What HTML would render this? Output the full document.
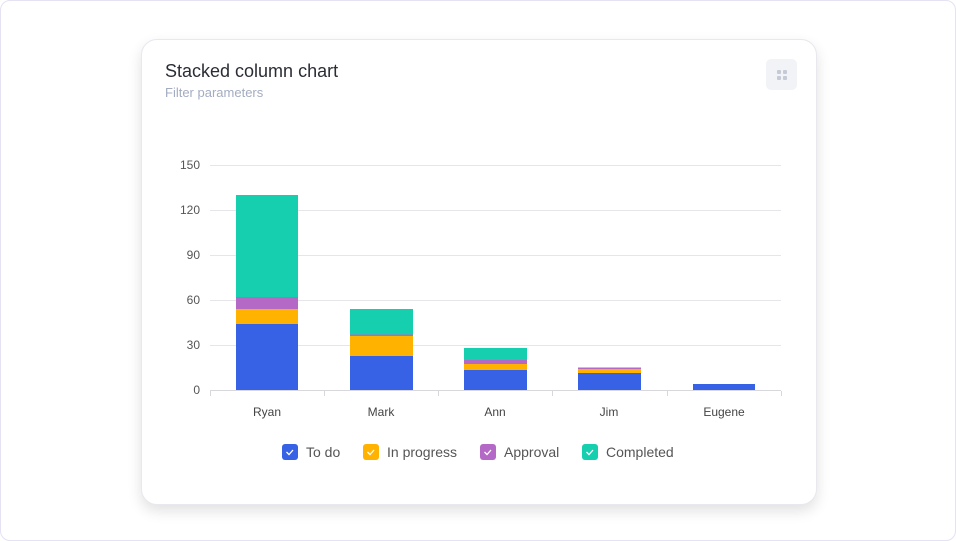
<!DOCTYPE html>
<html><head><style>
body{margin:0;width:956px;height:541px;background:#fff;font-family:"Liberation Sans",sans-serif;overflow:hidden}
.outer{position:absolute;left:0;top:0;width:954px;height:539px;border:1px solid #e4e2f3;border-radius:10px}
.card{position:absolute;left:141px;top:39px;width:674px;height:464px;background:#fff;border:1px solid #e8e8ee;border-radius:16px;box-shadow:0 6px 14px rgba(0,0,0,0.12)}
.t{position:absolute;left:23px;top:21px;font-size:18px;color:#2a2d34}
.s{position:absolute;left:23px;top:45px;font-size:13px;color:#a3acc1}
.btn{position:absolute;left:624px;top:19px;width:31px;height:31px;background:#f1f3f7;border-radius:5px}
</style></head><body>
<div class="outer"></div>
<div class="card"><div class="t">Stacked column chart</div><div class="s">Filter parameters</div>
<div class="btn"><svg width="31" height="31"><g fill="#c5cad6"><rect x="11" y="11" width="4" height="4" rx="1"/><rect x="17" y="11" width="4" height="4" rx="1"/><rect x="11" y="17" width="4" height="4" rx="1"/><rect x="17" y="17" width="4" height="4" rx="1"/></g></svg></div></div>
<svg style="position:absolute;left:0;top:0" width="956" height="541" font-family="Liberation Sans, sans-serif">
<g stroke="#e6e6ea" stroke-width="1">
<line x1="210" x2="781" y1="165.5" y2="165.5"/><line x1="210" x2="781" y1="210.5" y2="210.5"/><line x1="210" x2="781" y1="255.5" y2="255.5"/><line x1="210" x2="781" y1="300.5" y2="300.5"/><line x1="210" x2="781" y1="345.5" y2="345.5"/>
<line x1="210" x2="781" y1="390.5" y2="390.5" stroke="#d8d8dc"/>
<line x1="210.5" x2="210.5" y1="391" y2="396" stroke="#d8d8dc"/><line x1="324.5" x2="324.5" y1="391" y2="396" stroke="#d8d8dc"/><line x1="438.5" x2="438.5" y1="391" y2="396" stroke="#d8d8dc"/><line x1="552.5" x2="552.5" y1="391" y2="396" stroke="#d8d8dc"/><line x1="667.5" x2="667.5" y1="391" y2="396" stroke="#d8d8dc"/><line x1="781.5" x2="781.5" y1="391" y2="396" stroke="#d8d8dc"/>
</g>
<g font-size="12" fill="#555" text-anchor="end">
<text x="200" y="169">150</text><text x="200" y="214">120</text><text x="200" y="259">90</text><text x="200" y="304">60</text><text x="200" y="349">30</text><text x="200" y="394">0</text></g>
<g font-size="12" fill="#444" text-anchor="middle">
<text x="267" y="416">Ryan</text><text x="381" y="416">Mark</text><text x="495" y="416">Ann</text><text x="609" y="416">Jim</text><text x="724" y="416">Eugene</text></g>
<g>
<rect x="236" y="324" width="62" height="66" fill="#3862e6"/><rect x="236" y="309" width="62" height="15" fill="#ffb300"/><rect x="236" y="297" width="62" height="12" fill="#b569c7"/><rect x="236" y="195" width="62" height="102" fill="#16cfae"/>
<rect x="350" y="356" width="63" height="34" fill="#3862e6"/><rect x="350" y="336" width="63" height="20" fill="#ffb300"/><rect x="350" y="334.5" width="63" height="1.5" fill="#b569c7"/><rect x="350" y="309" width="63" height="25.5" fill="#16cfae"/>
<rect x="464" y="370" width="63" height="20" fill="#3862e6"/><rect x="464" y="364" width="63" height="6" fill="#ffb300"/><rect x="464" y="360" width="63" height="4" fill="#b569c7"/><rect x="464" y="348" width="63" height="12" fill="#16cfae"/>
<rect x="578" y="373" width="63" height="17" fill="#3862e6"/><rect x="578" y="369" width="63" height="4" fill="#ffb300"/><rect x="578" y="367.5" width="63" height="1.5" fill="#b569c7"/>
<rect x="693" y="384" width="62" height="6" fill="#3862e6"/>
</g>
<g font-size="14" fill="#555">
<rect x="282" y="444" width="16" height="16" rx="3" fill="#3862e6"/><path d="M286.5 452l2.5 2.5 4-4.5" stroke="#fff" fill="none" stroke-width="1.3"/><text x="306" y="457">To do</text>
<rect x="363" y="444" width="16" height="16" rx="3" fill="#ffb300"/><path d="M367.5 452l2.5 2.5 4-4.5" stroke="#fff" fill="none" stroke-width="1.3"/><text x="387" y="457">In progress</text>
<rect x="480" y="444" width="16" height="16" rx="3" fill="#b569c7"/><path d="M484.5 452l2.5 2.5 4-4.5" stroke="#fff" fill="none" stroke-width="1.3"/><text x="504" y="457">Approval</text>
<rect x="582" y="444" width="16" height="16" rx="3" fill="#16cfae"/><path d="M586.5 452l2.5 2.5 4-4.5" stroke="#fff" fill="none" stroke-width="1.3"/><text x="606" y="457">Completed</text>
</g>
</svg>
</body></html>
